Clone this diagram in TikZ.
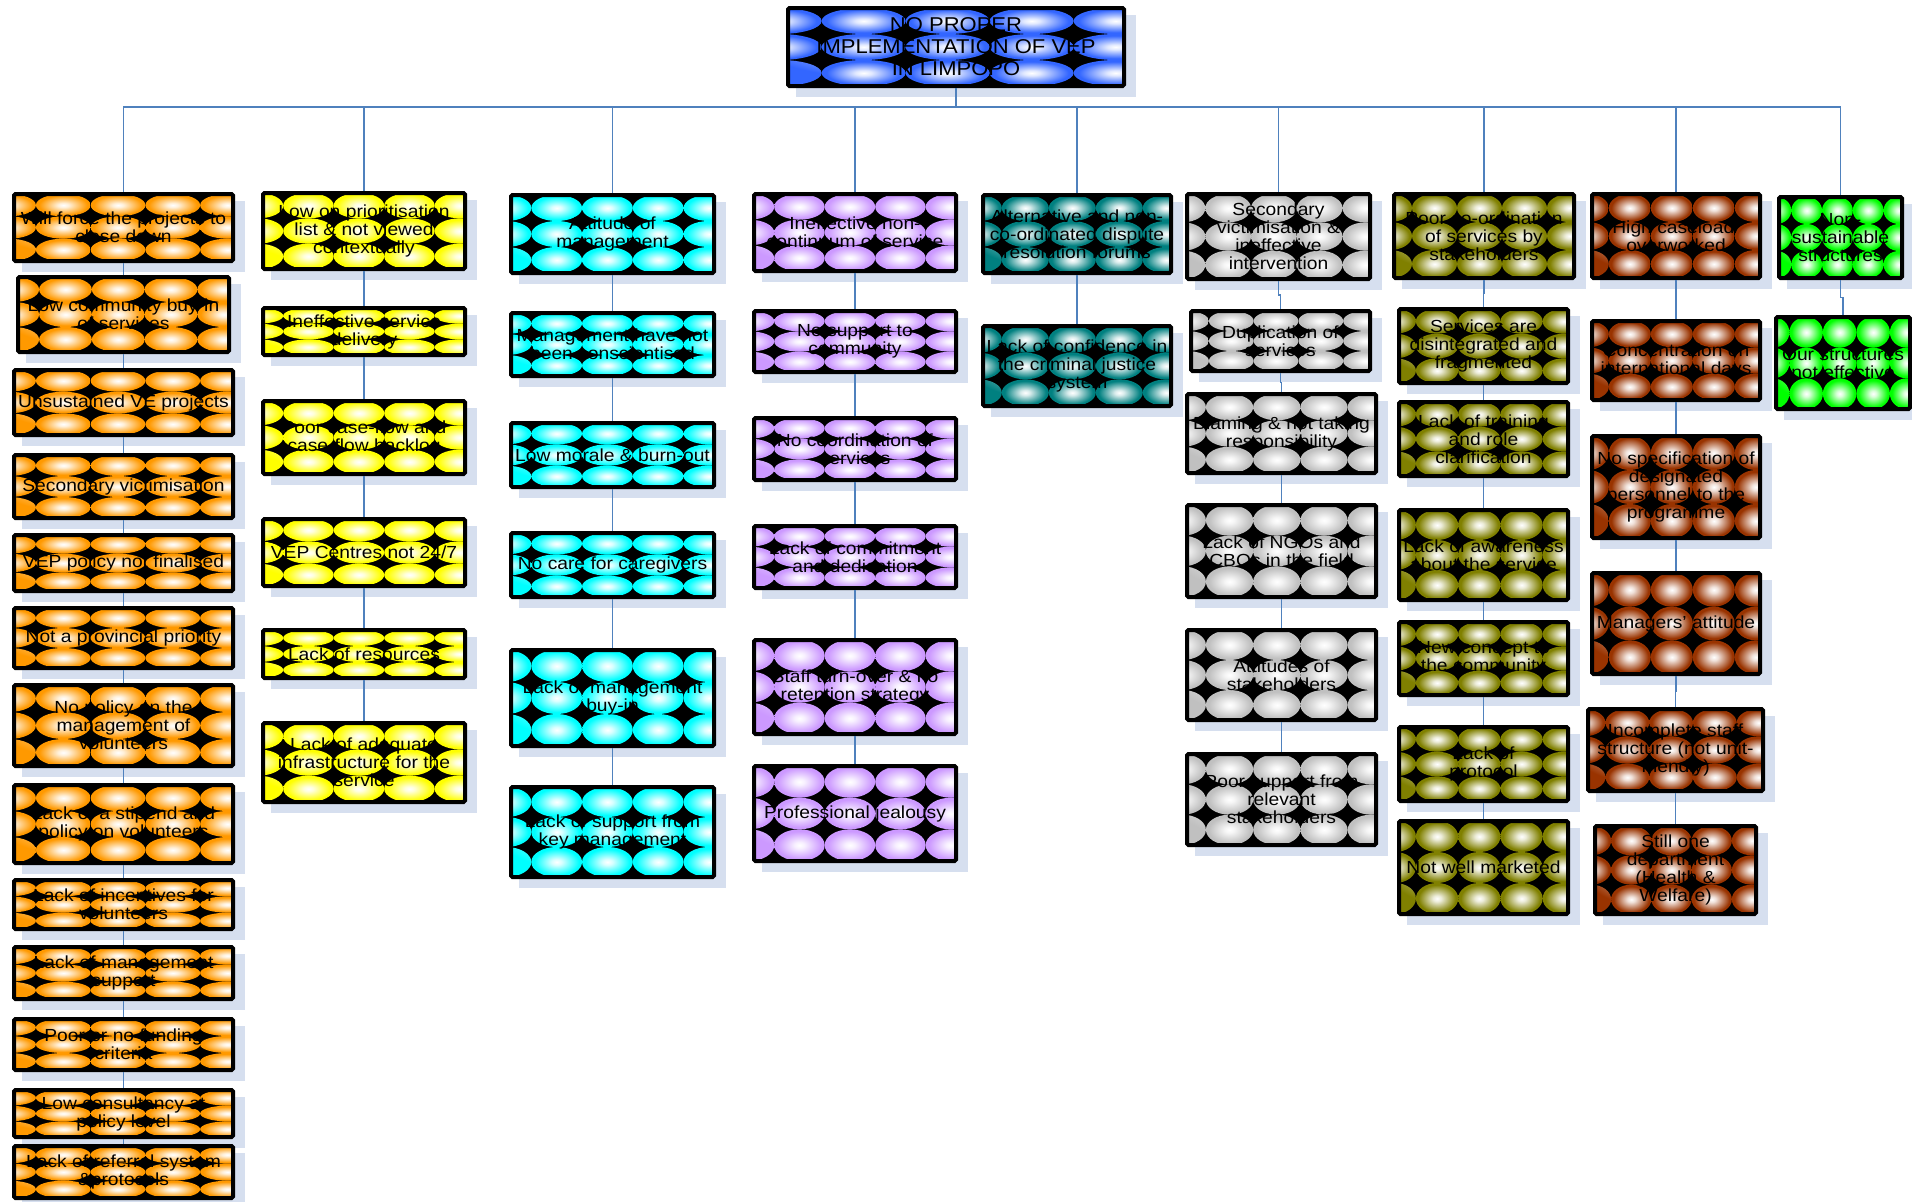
\documentclass[tikz,border=0pt]{standalone}
\usepackage{fontspec}
\newfontfamily\bxfont{Liberation Sans}[FakeStretch=1.1]
\usetikzlibrary{calc}
\definecolor{cOrange}{HTML}{FF9900}
\definecolor{cYellow}{HTML}{FFFF00}
\definecolor{cCyan}{HTML}{00FFFF}
\definecolor{cLav}{HTML}{CC99FF}
\definecolor{cTeal}{HTML}{008080}
\definecolor{cSilver}{HTML}{C0C0C0}
\definecolor{cOlive}{HTML}{808000}
\definecolor{cBrown}{HTML}{993300}
\definecolor{cGreen}{HTML}{00FF00}
\definecolor{cBlue}{HTML}{3366FF}
\definecolor{shadowc}{HTML}{D6DFEF}
\definecolor{linkc}{HTML}{4F81BD}
\colorlet{bubc}{cOrange}
\pgfdeclareradialshading[bubc]{bub}{\pgfpointorigin}{color(0bp)=(white); color(5bp)=(white!85!bubc); color(22bp)=(bubc); color(50bp)=(bubc)}
\newcommand\bubfill[1]{%
  \colorlet{bubc}{#1}%
  \pgfpointanchor{path picture bounding box}{south west}\pgfgetlastxy{\bbxa}{\bbya}%
  \pgfpointanchor{path picture bounding box}{north east}\pgfgetlastxy{\bbxb}{\bbyb}%
  \pgfmathsetmacro\bbw{(\bbxb)-(\bbxa)}%
  \pgfmathsetmacro\bbh{(\bbyb)-(\bbya)}%
  \pgfmathsetmacro\brx{\bbw/8}%
  \pgfmathsetmacro\bry{\bbh/6}%
  \foreach \i in {0,...,4}{\foreach \j in {0,1,2}{%
    \pgfmathsetmacro\cx{(\bbxa)+(\i-0.1)*\bbw/4}%
    \pgfmathsetmacro\cy{(\bbya)+(\j+0.5)*\bbh/3}%
    \shade[shading=bub] (\cx pt,\cy pt) ellipse (\brx pt and \bry pt);
  }}%
}
\tikzset{
  box/.style={draw=black, fill=black, line width=4pt, rounded corners=1.5pt,
    inner sep=0pt, align=center, text=black,
    font=\bxfont\fontsize{17.5pt}{18pt}\selectfont, path picture={\bubfill{#1}}},
  topfont/.style={font=\bxfont\fontsize{20pt}{22pt}\selectfont},
  conn/.style={draw=linkc, line width=1.3pt}
}
% [options]{name}{colour}{x1}{y1}{x2}{y2}{text}
\newcommand\bx[8][]{%
  \fill[shadowc] ({#4+10},{#5+9}) rectangle ({#6+10},{#7+9});
  \node[box=#3, minimum width={#6-#4-4}, minimum height={#7-#5-4}, #1] (#2) at ({(#4+#6)/2},{(#5+#7)/2}) {#8};
}
\newcommand\vlink[2]{\draw[conn] (#1.south) |- ($(#1.south)!0.5!(#2.north)$) -| (#2.north);}
\begin{document}
\begin{tikzpicture}[x=1pt, y=-1pt]
\fill[white] (0,0) rectangle (1912,1202);
\useasboundingbox (0,0) rectangle (1912,1202);

\bx[topfont]{top}{cBlue}{786}{6}{1126}{88}{NO PROPER\\IMPLEMENTATION OF VEP\\IN LIMPOPO}

% column 1
\bx{o1}{cOrange}{12}{192}{235}{263}{Will force the projects to\\close down}
\bx{o2}{cOrange}{16}{275}{231}{354}{Low community buy-in\\of services}
\bx{o3}{cOrange}{12}{368}{235}{437}{Unsustained VE projects}
\bx{o4}{cOrange}{12}{453}{235}{520}{Secondary victimisation}
\bx{o5}{cOrange}{12}{533}{235}{593}{VEP policy not finalised}
\bx{o6}{cOrange}{12}{606}{235}{670}{Not a provincial priority}
\bx{o7}{cOrange}{12}{683}{235}{768}{No policy on the\\management of\\volunteers}
\bx{o8}{cOrange}{12}{783}{235}{865}{Lack of a stipend and\\policy on volunteers}
\bx{o9}{cOrange}{12}{878}{235}{931}{Lack of incentives for\\volunteers}
\bx{o10}{cOrange}{12}{945}{235}{1001}{Lack of management\\support}
\bx{o11}{cOrange}{12}{1017}{235}{1072}{Poor or no funding\\criteria}
\bx{o12}{cOrange}{12}{1088}{235}{1139}{Low consultancy at\\policy level}
\bx{o13}{cOrange}{12}{1144}{235}{1200}{Lack of referral system\\\&protocols}

% column 2
\bx{y1}{cYellow}{261}{191}{467}{271}{Low on prioritisation\\list \& not viewed\\contextually}
\bx{y2}{cYellow}{261}{306}{467}{357}{Ineffective service\\delivery}
\bx{y3}{cYellow}{261}{399}{467}{476}{Poor case-flow and\\case-flow backlog}
\bx{y4}{cYellow}{261}{517}{467}{588}{VEP Centres not 24/7}
\bx{y5}{cYellow}{261}{628}{467}{680}{Lack of resources}
\bx{y6}{cYellow}{261}{721}{467}{804}{Lack of adequate\\infrastructure for the\\service}

% column 3
\bx{c1}{cCyan}{509}{193}{716}{275}{Attitude of\\management}
\bx{c2}{cCyan}{509}{311}{716}{378}{Management have not\\been conscientised}
\bx{c3}{cCyan}{509}{421}{716}{489}{Low morale \& burn-out}
\bx{c4}{cCyan}{509}{531}{716}{599}{No care for caregivers}
\bx{c5}{cCyan}{509}{648}{716}{748}{Lack of management\\buy-in}
\bx{c6}{cCyan}{509}{785}{716}{879}{Lack of support from\\key management}

% column 4
\bx{l1}{cLav}{752}{192}{958}{273}{Ineffective non-\\continuum of service}
\bx{l2}{cLav}{752}{309}{958}{374}{No support to\\community}
\bx{l3}{cLav}{752}{416}{958}{482}{No coordination of\\services}
\bx{l4}{cLav}{752}{524}{958}{590}{Lack of commitment\\and dedication}
\bx{l5}{cLav}{752}{638}{958}{736}{Staff turn-over \& no\\retention strategy}
\bx{l6}{cLav}{752}{764}{958}{863}{Professional jealousy}

% column 5
\bx{t1}{cTeal}{981}{193}{1173}{275}{Alternative and non-\\co-ordinated dispute\\resolution forums}
\bx{t2}{cTeal}{981}{324}{1173}{408}{Lack of confidence in\\the criminal justice\\system}

% column 6
\bx{s1}{cSilver}{1185}{192}{1372}{281}{Secondary\\victimisation \&\\ineffective\\intervention}
\bx{s2}{cSilver}{1189}{309}{1372}{373}{Duplication of\\services}
\bx{s3}{cSilver}{1185}{392}{1378}{475}{Blaming \& not taking\\responsibility}
\bx{s4}{cSilver}{1185}{503}{1378}{599}{Lack of NGOs and\\CBOs in the field}
\bx{s5}{cSilver}{1185}{628}{1378}{722}{Attitudes of\\stakeholders}
\bx{s6}{cSilver}{1185}{752}{1378}{847}{Poor support from\\relevant\\stakeholders}

% column 7
\bx{v1}{cOlive}{1392}{192}{1576}{280}{Poor co-ordination\\of services by\\stakeholders}
\bx{v2}{cOlive}{1397}{307}{1570}{385}{Services are\\disintegrated and\\fragmented}
\bx{v3}{cOlive}{1397}{400}{1570}{478}{Lack of training\\and role\\clarification}
\bx{v4}{cOlive}{1397}{508}{1570}{602}{Lack of awareness\\about the service}
\bx{v5}{cOlive}{1397}{620}{1570}{697}{New concept to\\the community}
\bx{v6}{cOlive}{1397}{725}{1570}{803}{Lack of\\protocol}
\bx{v7}{cOlive}{1397}{819}{1570}{916}{Not well marketed}

% column 8
\bx{b1}{cBrown}{1590}{192}{1762}{280}{High caseload/\\overworked}
\bx{b2}{cBrown}{1590}{319}{1762}{402}{Concentration on\\international days}
\bx{b3}{cBrown}{1590}{434}{1762}{540}{No specification of\\designated\\personnel to the\\programme}
\bx{b4}{cBrown}{1590}{571}{1762}{676}{Managers’ attitude}
\bx{b5}{cBrown}{1586}{707}{1765}{793}{Incomplete staff\\structure (not unit-\\friendly)}
\bx{b6}{cBrown}{1593}{824}{1758}{916}{Still one\\department\\(Health \&\\Welfare)}

% column 9
\bx{g1}{cGreen}{1777}{195}{1904}{280}{Non-\\sustainable\\structures}
\bx{g2}{cGreen}{1774}{315}{1912}{411}{Our structures\\not effective}

% connectors
\coordinate (bus) at (956,107);
\foreach \n in {o1,y1,c1,l1,t1,s1,v1,b1,g1}{
  \draw[conn] (top.south) -- (bus) -| (\n.north);
}
\foreach \a/\b in {o1/o2,o2/o3,o3/o4,o4/o5,o5/o6,o6/o7,o7/o8,o8/o9,o9/o10,o10/o11,o11/o12,o12/o13,
  y1/y2,y2/y3,y3/y4,y4/y5,y5/y6,
  c1/c2,c2/c3,c3/c4,c4/c5,c5/c6,
  l1/l2,l2/l3,l3/l4,l4/l5,l5/l6,
  t1/t2,
  s1/s2,s2/s3,s3/s4,s4/s5,s5/s6,
  v1/v2,v2/v3,v3/v4,v4/v5,v5/v6,v6/v7,
  b1/b2,b2/b3,b3/b4,b4/b5,b5/b6,
  g1/g2}{\vlink{\a}{\b}}
\end{tikzpicture}
\end{document}
